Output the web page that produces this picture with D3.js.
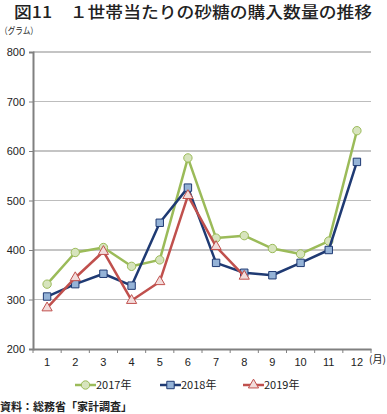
<!DOCTYPE html>
<html>
<head>
<meta charset="utf-8">
<script src="https://cdn.jsdelivr.net/npm/d3@7"></script>
<style>
  body { margin: 0; background: #fff; }
  text { font-family: "Noto Sans CJK JP", "Noto Sans", sans-serif; }
</style>
</head>
<body>
<div id="chart"></div>
<script>
// data
var months = ["1", "2", "3", "4", "5", "6", "7", "8", "9", "10", "11", "12"]
var yTicks = [200, 300, 400, 500, 600, 700, 800]
var s2017 = [331, 395, 405, 367, 380, 586, 424, 429, 403, 392, 418, 641]
var s2018 = [306, 331, 352, 328, 455, 526, 374, 354, 349, 374, 400, 578]
var s2019 = [283, 344, 397, 298, 336, 510, 407, 347]

var series = [
    { name: "2017年", values: s2017, line: "#9bbb59", fill: "#d7e4bd", shape: d3.symbolCircle, size: 55 },
    { name: "2018年", values: s2018, line: "#1f3a73", fill: "#95b3d7", shape: d3.symbolSquare, size: 55 },
    { name: "2019年", values: s2019, line: "#c0504d", fill: "#f2dcdb", shape: d3.symbolTriangle, size: 45 }
]

var W = 387, H = 414
var svg = d3.select("#chart").append("svg")
    .attr("width", W)
    .attr("height", H)

var x = d3.scaleBand().domain(months).range([33, 371])
var y = d3.scaleLinear().domain([200, 800]).range([349, 52])

// title
svg.append("text")
    .attr("x", 14).attr("y", 18)
    .attr("textLength", 358).attr("lengthAdjust", "spacingAndGlyphs")
    .style("font-size", "16px").style("font-weight", 500).attr("fill", "#222")
    .text("図11　１世帯当たりの砂糖の購入数量の推移")

svg.append("text")
    .attr("x", 0).attr("y", 34)
    .attr("textLength", 38).attr("lengthAdjust", "spacingAndGlyphs")
    .style("font-size", "9px").attr("fill", "#222")
    .text("（グラム）")

// grid
svg.append("g").selectAll("line")
    .data(yTicks.slice(1))
    .enter().append("line")
    .attr("x1", 33).attr("x2", 371)
    .attr("y1", function(d) { return y(d) })
    .attr("y2", function(d) { return y(d) })
    .attr("stroke", function(d, i) { return i % 2 ? "#8a8a8a" : "#bdbdbd" })
    .attr("stroke-width", 1.2)

// y axis
var yAxis = svg.append("g")
    .attr("transform", "translate(33,0)")
    .call(d3.axisLeft(y).tickValues(yTicks).tickSize(4).tickPadding(4))
yAxis.select(".domain").attr("stroke", "#808080").attr("stroke-width", 2)
yAxis.selectAll(".tick line").attr("stroke", "#808080")
yAxis.selectAll(".tick text").style("font-size", "11px").attr("fill", "#222")
    .style("font-family", "'Liberation Sans', Arial, sans-serif")

// x axis
var xAxis = svg.append("g")
    .attr("transform", "translate(0,349)")
    .call(d3.axisBottom(x).tickSize(0).tickPadding(9))
xAxis.select(".domain").attr("stroke", "#808080").attr("stroke-width", 2)
xAxis.selectAll(".tick text").style("font-size", "11px").attr("fill", "#222")
    .style("font-family", "'Liberation Sans', Arial, sans-serif")
xAxis.selectAll(".bt")
    .data(d3.range(months.length + 1))
    .enter().append("line")
    .attr("x1", function(i) { return 33 + i * x.step() })
    .attr("x2", function(i) { return 33 + i * x.step() })
    .attr("y1", 0).attr("y2", 4)
    .attr("stroke", "#808080")

svg.append("text")
    .attr("x", 369).attr("y", 363)
    .attr("textLength", 17).attr("lengthAdjust", "spacingAndGlyphs")
    .style("font-size", "10px").attr("fill", "#222")
    .text("(月)")

var cx = function(d, i) { return x(months[i]) + x.bandwidth() / 2 }
var line = d3.line()
    .x(cx)
    .y(function(d) { return y(d) })

series.forEach(function(s) {
    svg.append("path")
        .attr("d", line(s.values))
        .attr("fill", "none")
        .attr("stroke", s.line)
        .attr("stroke-width", 2.5)
        .attr("stroke-linejoin", "round")
    svg.append("g").selectAll("path")
        .data(s.values)
        .enter().append("path")
        .attr("d", d3.symbol().type(s.shape).size(s.size))
        .attr("transform", function(d, i) { return "translate(" + cx(d, i) + "," + y(d) + ")" })
        .attr("fill", s.fill)
        .attr("stroke", s.line)
        .attr("stroke-width", 1)
})

// legend
var legendX = [75, 160, 243]
var lg = svg.append("g").selectAll("g")
    .data(series)
    .enter().append("g")
    .attr("transform", function(d, i) { return "translate(" + legendX[i] + ",385)" })
lg.append("line")
    .attr("x1", 0).attr("x2", 21)
    .attr("stroke", function(d) { return d.line })
    .attr("stroke-width", 2.5)
lg.append("path")
    .attr("d", function(d) { return d3.symbol().type(d.shape).size(d.size)() })
    .attr("transform", "translate(10.5,0)")
    .attr("fill", function(d) { return d.fill })
    .attr("stroke", function(d) { return d.line })
lg.append("text")
    .attr("x", 21).attr("y", 4)
    .style("font-size", "11px").attr("fill", "#222")
    .text(function(d) { return d.name })

// source
svg.append("text")
    .attr("x", 0).attr("y", 411)
    .style("font-size", "11px").style("font-weight", "bold").attr("fill", "#222")
    .text("資料：総務省「家計調査」")
</script>
</body>
</html>
